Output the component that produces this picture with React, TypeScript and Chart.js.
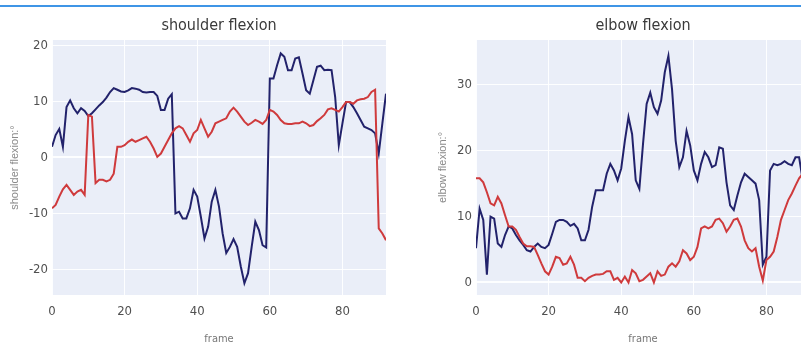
import React, { useEffect, useRef } from 'react';
import { Chart, registerables } from 'chart.js';

Chart.register(...registerables);

// ---------- data ----------
const frames: number[] = Array.from({ length: 93 }, (_, i) => i);

const shoulderBlue = [
  1.9, 4.0, 5.1, 1.9, 9.0, 10.2, 8.8, 7.9, 8.8, 8.3,
  7.4, 7.9, 8.6, 9.3, 9.9, 10.7, 11.7, 12.4, 12.1, 11.8,
  11.7, 12.0, 12.4, 12.3, 12.1, 11.7, 11.6, 11.7, 11.7, 11.0,
  8.5, 8.5, 10.5, 11.3, -10.0, -9.7, -10.9, -10.9, -9.1, -5.8,
  -7.0, -10.6, -14.5, -12.4, -7.9, -5.8, -8.8, -13.6, -17.1, -16.0,
  -14.6, -16.0, -19.5, -22.5, -20.7, -16.0, -11.5, -13.0, -15.7, -16.1,
  14.1, 14.1, 16.5, 18.6, 18.0, 15.6, 15.6, 17.7, 17.9, 15.0,
  12.0, 11.4, 13.8, 16.2, 16.4, 15.6, 15.7, 15.6, 10.8, 2.2,
  6.1, 9.9, 9.9, 9.0, 7.9, 6.7, 5.5, 5.2, 4.9, 4.3,
  0.7, 6.1, 11.4,
];

const shoulderRed = [
  -9.1, -8.5, -7.0, -5.7, -4.9, -5.8, -6.7, -6.1, -5.8, -6.7,
  7.6, 7.3, -4.6, -4.0, -4.0, -4.3, -4.0, -2.9, 1.9, 1.9,
  2.2, 2.8, 3.2, 2.8, 3.1, 3.4, 3.7, 2.8, 1.6, 0.1,
  0.7, 1.9, 3.1, 4.3, 5.2, 5.6, 5.2, 4.0, 2.8, 4.3,
  4.9, 6.7, 5.2, 3.7, 4.6, 6.1, 6.4, 6.7, 7.0, 8.2,
  8.9, 8.2, 7.3, 6.4, 5.8, 6.2, 6.7, 6.4, 6.0, 6.7,
  8.5, 8.2, 7.6, 6.7, 6.1, 6.0, 6.0, 6.1, 6.1, 6.4,
  6.1, 5.6, 5.8, 6.5, 7.0, 7.6, 8.6, 8.8, 8.5, 8.2,
  9.0, 9.9, 9.9, 9.6, 10.2, 10.4, 10.5, 10.8, 11.7, 12.1,
  -12.7, -13.6, -14.8,
];

const elbowBlue = [
  5.2, 11.2, 9.5, 1.2, 10.0, 9.7, 5.9, 5.4, 7.2, 8.5,
  8.2, 7.2, 6.4, 5.7, 4.9, 4.7, 5.4, 5.9, 5.4, 5.2,
  5.7, 7.4, 9.2, 9.5, 9.5, 9.2, 8.6, 8.9, 8.2, 6.4,
  6.4, 8.0, 11.5, 14.0, 14.0, 14.0, 16.5, 18.0, 17.0, 15.5,
  17.3, 21.5, 25.1, 22.5, 15.5, 14.2, 21.0, 27.1, 28.8, 26.6,
  25.6, 27.6, 31.9, 34.4, 29.3, 21.5, 17.5, 19.0, 23.0, 20.8,
  17.0, 15.5, 18.0, 19.8, 19.0, 17.5, 17.8, 20.5, 20.3, 15.2,
  11.7, 11.0, 13.2, 15.2, 16.5, 16.0, 15.5, 15.0, 12.5, 2.7,
  3.9, 17.0, 18.0, 17.8, 18.0, 18.4, 18.0, 17.8, 19.0, 19.0,
  15.5, 15.2, 15.0,
];

const elbowRed = [
  15.8, 15.8, 15.2, 13.7, 12.0, 11.7, 13.0, 12.0, 10.2, 8.5,
  8.5, 8.0, 6.9, 5.9, 5.5, 5.5, 5.4, 4.2, 2.9, 1.7,
  1.2, 2.4, 3.9, 3.7, 2.7, 2.9, 3.9, 2.7, 0.7, 0.7,
  0.2, 0.7, 1.0, 1.2, 1.2, 1.3, 1.7, 1.7, 0.4, 0.7,
  0.0, 0.9, 0.0, 1.9, 1.4, 0.2, 0.4, 0.9, 1.4, 0.0,
  1.7, 1.0, 1.2, 2.4, 2.9, 2.4, 3.2, 4.9, 4.4, 3.4,
  3.9, 5.4, 8.2, 8.5, 8.2, 8.5, 9.5, 9.7, 9.0, 7.7,
  8.5, 9.5, 9.7, 8.5, 6.4, 5.2, 4.7, 5.2, 2.4, 0.3,
  3.4, 3.9, 4.7, 6.9, 9.5, 11.0, 12.5, 13.5, 14.7, 15.8,
  16.5, 17.0, 17.5,
];

const xTicks = [0, 20, 40, 60, 80];
const shoulderYTicks = [-20, -10, 0, 10, 20];
const elbowYTicks = [0, 10, 20, 30];

// ---------- styling ----------
const BLUE = '#22226b';
const RED = '#cf3a3c';
const PLOT_BG = '#eaeef8';
const NARROW = "'Liberation Sans Narrow', 'DejaVu Sans Condensed', 'Open Sans', sans-serif";

const plotBg = {
  id: 'plotBg',
  beforeDraw(chart: any) {
    const { ctx, chartArea } = chart;
    if (!chartArea) return;
    ctx.save();
    ctx.fillStyle = PLOT_BG;
    ctx.fillRect(chartArea.left, chartArea.top, chartArea.right - chartArea.left, chartArea.bottom - chartArea.top);
    ctx.restore();
  },
};

type PanelProps = {
  title: string;
  yLabel: string;
  blue: number[];
  red: number[];
  yTicks: number[];
  yMin: number;
  yMax: number;
  yAxisWidth: number;
  yTitlePad: number;
  width: number;
  padRight: number;
  left: number;
};

function Panel(p: PanelProps) {
  const ref = useRef<HTMLCanvasElement | null>(null);
  useEffect(() => {
    if (!ref.current) return;
    const toPts = (arr: number[]) => frames.map((f, i) => ({ x: f, y: arr[i] }));
    const chart = new Chart(ref.current, {
      type: 'line',
      data: {
        datasets: [
          { data: toPts(p.red), borderColor: RED, borderWidth: 2, pointRadius: 0, tension: 0, fill: false },
          { data: toPts(p.blue), borderColor: BLUE, borderWidth: 2, pointRadius: 0, tension: 0, fill: false },
        ],
      },
      options: {
        responsive: false,
        animation: false,
        maintainAspectRatio: false,
        layout: { padding: { left: 0, right: p.padRight, top: 0, bottom: 0 } },
        plugins: {
          legend: { display: false },
          tooltip: { enabled: false },
          title: {
            display: true,
            text: p.title,
            fullSize: false,
            color: '#3a3a3a',
            font: { family: NARROW, size: 16, weight: 'normal', lineHeight: 1.2 },
            padding: { top: 16, bottom: 4.8 },
          },
        },
        scales: {
          x: {
            type: 'linear',
            min: 0,
            max: 92,
            afterBuildTicks: (s: any) => { s.ticks = xTicks.map((v) => ({ value: v })); },
            afterFit: (s: any) => { s.height = 51; },
            grid: { color: 'rgba(255,255,255,0.9)', lineWidth: 1, drawTicks: false },
            border: { display: false },
            ticks: { color: '#505050', padding: 9, font: { family: NARROW, size: 13 } },
            title: {
              display: true,
              text: 'frame',
              color: '#777',
              font: { family: NARROW, size: 11 },
              padding: { top: 0, bottom: 0 },
            },
          },
          y: {
            type: 'linear',
            min: p.yMin,
            max: p.yMax,
            afterBuildTicks: (s: any) => { s.ticks = p.yTicks.map((v) => ({ value: v })); },
            afterFit: (s: any) => { s.width = p.yAxisWidth; },
            grid: {
              color: 'rgba(255,255,255,0.9)',
              lineWidth: (c: any) => (c.tick && c.tick.value === 0 ? 2 : 1),
              drawTicks: false,
            },
            border: { display: false },
            ticks: { color: '#505050', padding: 4, font: { family: NARROW, size: 13 } },
            title: {
              display: true,
              text: p.yLabel,
              color: '#8a8a8a',
              font: { family: "'Liberation Sans', Arial, sans-serif", size: 11 },
              padding: { top: p.yTitlePad, bottom: 0 },
            },
          },
        },
      },
      plugins: [plotBg],
    } as any);
    return () => chart.destroy();
  }, []);
  return (
    <canvas
      ref={ref}
      width={p.width}
      height={346}
      style={{ position: 'absolute', left: p.left, top: 0, width: p.width, height: 346 }}
    />
  );
}

export default function App() {
  return (
    <div
      style={{
        position: 'fixed',
        left: 0,
        top: 0,
        width: 801,
        height: 346,
        background: '#ffffff',
        overflow: 'hidden',
      }}
    >
      <div style={{ position: 'absolute', left: 0, top: 5, width: 801, height: 2, background: '#3f95e6' }} />
      <Panel
        title="shoulder flexion"
        yLabel="shoulder flexion:°"
        blue={shoulderBlue}
        red={shoulderRed}
        yTicks={shoulderYTicks}
        yMin={-24.6}
        yMax={21}
        yAxisWidth={52}
        yTitlePad={8}
        width={400}
        padRight={14}
        left={0}
      />
      <Panel
        title="elbow flexion"
        yLabel="elbow flexion:°"
        blue={elbowBlue}
        red={elbowRed}
        yTicks={elbowYTicks}
        yMin={-1.9}
        yMax={36.8}
        yAxisWidth={76}
        yTitlePad={36}
        width={420}
        padRight={10}
        left={400}
      />
    </div>
  );
}
